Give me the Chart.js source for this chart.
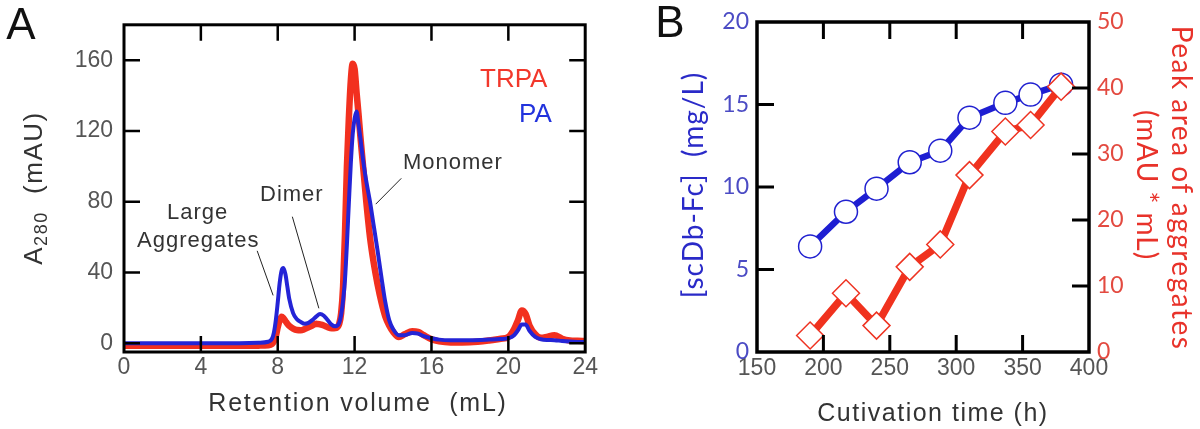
<!DOCTYPE html>
<html>
<head>
<meta charset="utf-8">
<script src="https://cdn.jsdelivr.net/npm/chart.js@4.4.1/dist/chart.umd.min.js"></script>
<style>
  html, body { margin:0; padding:0; background:#fff; }
  #wrap { position:relative; width:1200px; height:429px; overflow:hidden; font-family:"Liberation Sans", Arial, sans-serif; color:#333; }
  canvas { position:absolute; top:0; }
  #chartA { left:0; }
  #chartB { left:600px; }
  .txt { position:absolute; white-space:nowrap; line-height:1; }
  .c { transform:translate(-50%,-50%); }
  .l { transform:translate(0,-50%); }
  .rl { transform:translate(-50%,-50%) rotate(-90deg); }
  .rr { transform:translate(-50%,-50%) rotate(90deg); }
  .ann { font-size:22px; letter-spacing:1px; color:#333; }
  .lato { font-family:Lato, "Liberation Sans", sans-serif; }
</style>
</head>
<body>
<div id="wrap">
  <canvas id="chartA" width="600" height="429"></canvas>
  <canvas id="chartB" width="600" height="429"></canvas>

  <!-- panel A texts -->
  <div class="txt c" style="left:21px;top:24px;font-size:44px;color:#111">A</div>
  <div class="txt l" style="left:480px;top:78px;font-size:26px;color:#f2372b">TRPA</div>
  <div class="txt l" style="left:519px;top:113px;font-size:26px;color:#2233dd">PA</div>
  <div class="txt l ann" style="left:403px;top:162px">Monomer</div>
  <div class="txt l ann" style="left:260px;top:194px">Dimer</div>
  <div class="txt l ann" style="left:167px;top:212px">Large</div>
  <div class="txt l ann" style="left:137px;top:240px">Aggregates</div>
  <div class="txt c" style="left:358px;top:402px;font-size:25px;letter-spacing:1.8px">Retention volume&nbsp; (mL)</div>
  <div class="txt rl" style="left:35px;top:188px;font-size:26px;letter-spacing:1.5px">A<sub style="font-size:18px;vertical-align:-5px">280</sub>&nbsp; (mAU)</div>

  <!-- panel B texts -->
  <div class="txt c" style="left:670px;top:22px;font-size:44px;color:#111">B</div>
  <div class="txt c" style="left:933px;top:412px;font-size:25px;letter-spacing:1.5px">Cutivation time (h)</div>
  <div class="txt rl lato" style="left:692px;top:185px;font-size:28px;letter-spacing:1px;color:#2a2ac8">[scDb-Fc]&nbsp; (mg/L)</div>
  <div class="txt rr lato" style="left:1183px;top:188px;font-size:28px;letter-spacing:1.5px;color:#e8322a">Peak area of aggregates</div>
  <div class="txt rr lato" style="left:1148px;top:185px;font-size:28px;letter-spacing:1px;color:#e8322a">(mAU * mL)</div>
</div>

<script>
// ---- panel A : SEC chromatogram ----
var volA = [0, 2, 4, 6, 7, 7.5, 7.7, 7.8, 7.9, 8.0, 8.1, 8.2, 8.3, 8.4, 8.5, 8.6, 8.8, 9.0, 9.2, 9.4, 9.6, 9.8, 10.0, 10.2, 10.4, 10.6, 10.8, 11.0, 11.2,
  11.3, 11.4, 11.5, 11.6, 11.7, 11.8, 11.9, 12.0, 12.1, 12.2, 12.3, 12.4, 12.5, 12.6, 12.8, 13.0, 13.2, 13.4, 13.6, 13.8, 14.0,
  14.3, 14.6, 15.0, 15.3, 15.6, 16.0, 16.4, 17.0, 18.0, 19.0, 19.6, 20.0, 20.3, 20.5, 20.7, 20.9, 21.1, 21.4, 21.7, 22.0, 22.4, 22.8, 23.2, 23.6, 24.0];
var paA = [0, 0, 0, 0, 0.2, 0.8, 2.5, 6, 13, 23, 34, 41, 42.5, 39, 32, 25, 17, 13.5, 12, 11, 11.5, 13, 15, 16.5, 15.5, 13, 10.5, 9.5, 11.5,
  16, 24, 36, 56, 79, 101, 118, 127, 131, 124, 116, 107, 99, 92, 80, 66, 52, 37, 23, 13, 8,
  4.5, 4.5, 5.8, 5.4, 4, 2.8, 2, 1.7, 1.7, 2, 2.3, 2.8, 4.5, 7.3, 10.5, 10.5, 7, 3.5, 2.2, 1.8, 1.7, 1.2, 0.9, 0.7, 0.6];
var trpaA = [-1.5, -1.5, -1.5, -1.5, -1.4, -1.2, -0.5, 1, 4, 9, 13, 15, 14, 12.5, 11, 9.8, 8.2, 7.4, 7.3, 8, 9, 10, 11, 10.6, 10, 9, 8.4, 8.5, 11,
  17, 32, 62, 100, 127, 148, 158, 155, 142, 130, 117, 105, 93, 81, 60, 45, 33, 23, 15, 10, 6.5,
  3.5, 5, 6.7, 6.4, 4.5, 2.2, 1, 0.4, 0.5, 1.5, 2.5, 3.5, 8, 13, 18.5, 16.5, 10, 5, 3, 3.5, 4.5, 2.5, 1.5, 1.3, 1.2];
var xTicksA = [0, 4, 8, 12, 16, 20, 24];
var yTicksA = [0, 40, 80, 120, 160];

// leader lines for the peak labels, in mL / mAU
var leadersA = [[14.43, 93.2, 13.1, 78.6], [8.76, 71.5, 10.14, 19.7], [6.93, 52.2, 7.76, 27]];

// ---- panel B : cultivation ----
var cultTime = [190, 217, 240, 265, 288, 310, 337, 356, 379];
var scdbConc = [6.4, 8.5, 9.9, 11.5, 12.2, 14.2, 15.1, 15.6, 16.2];
var aggArea = [2.5, 8.9, 4.0, 12.9, 16.3, 26.8, 33.4, 34.4, 40.2];
var xTicksB = [150, 200, 250, 300, 350, 400];
var yTicksB = [0, 5, 10, 15, 20];
var y2TicksB = [0, 10, 20, 30, 40, 50];

function setTicks(list) {
    return function (s) { s.ticks = list.map(function (v) { return {value: v}; }); };
}
function pts(xs, ys) {
    return xs.map(function (v, i) { return {x: v, y: ys[i]}; });
}

// box round the plot with inward tick marks on every side
var framePlugin = {
    id: 'frame',
    afterDraw: function (chart, args, opts) {
        var ctx = chart.ctx, a = chart.chartArea;
        ctx.save();
        ctx.strokeStyle = '#000';
        ctx.lineWidth = opts.tickWidth;
        ctx.beginPath();
        opts.marks.forEach(function (m) {
            var s = chart.scales[m.axis];
            m.values.forEach(function (v) {
                var p = s.getPixelForValue(v);
                m.sides.forEach(function (side) {
                    if (side === 'bottom') { ctx.moveTo(p, a.bottom); ctx.lineTo(p, a.bottom - opts.len); }
                    if (side === 'top') { ctx.moveTo(p, a.top); ctx.lineTo(p, a.top + opts.len); }
                    if (side === 'left') { ctx.moveTo(a.left, p); ctx.lineTo(a.left + opts.len, p); }
                    if (side === 'right') { ctx.moveTo(a.right, p); ctx.lineTo(a.right - opts.len, p); }
                });
            });
        });
        ctx.stroke();
        ctx.lineWidth = opts.width;
        ctx.strokeRect(a.left, a.top, a.right - a.left, a.bottom - a.top);
        ctx.restore();
    }
};

var leaderPlugin = {
    id: 'leaders',
    afterDatasetsDraw: function (chart) {
        var ctx = chart.ctx, x = chart.scales.x, y = chart.scales.y;
        ctx.save();
        ctx.strokeStyle = '#222';
        ctx.lineWidth = 1;
        leadersA.forEach(function (l) {
            ctx.beginPath();
            ctx.moveTo(x.getPixelForValue(l[0]), y.getPixelForValue(l[1]));
            ctx.lineTo(x.getPixelForValue(l[2]), y.getPixelForValue(l[3]));
            ctx.stroke();
        });
        ctx.restore();
    }
};

var noGrid = {display: false, drawTicks: false};

new Chart(document.getElementById('chartA'), {
    type: 'line',
    data: {
        datasets: [{
            label: 'PA',
            data: pts(volA, paA),
            borderColor: '#2424d6',
            borderWidth: 4,
            pointRadius: 0,
            cubicInterpolationMode: 'monotone',
            order: 0
        }, {
            label: 'TRPA',
            data: pts(volA, trpaA),
            borderColor: '#f2301f',
            borderWidth: 6.5,
            pointRadius: 0,
            cubicInterpolationMode: 'monotone',
            order: 1
        }]
    },
    options: {
        responsive: false,
        animation: false,
        layout: {padding: {left: 0, right: 12, top: 23, bottom: 0}, autoPadding: false},
        plugins: {
            legend: {display: false},
            tooltip: {enabled: false},
            frame: {width: 3, tickWidth: 2.5, len: 16, marks: [
                {axis: 'x', values: [4, 8, 12, 16, 20], sides: ['bottom', 'top']},
                {axis: 'y', values: yTicksA, sides: ['left', 'right']}
            ]}
        },
        scales: {
            x: {
                type: 'linear', min: 0, max: 24,
                afterFit: function (s) { s.height = 77; },
                afterBuildTicks: setTicks(xTicksA),
                grid: noGrid, border: {display: false},
                ticks: {font: {family: 'Liberation Sans', size: 23}, color: '#555', padding: 2, maxRotation: 0, autoSkip: false}
            },
            y: {
                type: 'linear', min: -5, max: 180,
                afterFit: function (s) { s.width = 124; },
                afterBuildTicks: setTicks(yTicksA),
                grid: noGrid, border: {display: false},
                ticks: {font: {family: 'Liberation Sans', size: 23}, color: '#555', padding: 11}
            }
        }
    },
    plugins: [framePlugin, leaderPlugin]
});

new Chart(document.getElementById('chartB'), {
    type: 'line',
    data: {
        datasets: [{
            label: 'Peak area of aggregates',
            data: pts(cultTime, aggArea),
            yAxisID: 'y2',
            borderColor: '#f0321e',
            borderWidth: 7.5,
            pointStyle: 'rectRot',
            pointRadius: 13.5,
            pointBorderWidth: 1.5,
            pointBorderColor: '#ee3322',
            pointBackgroundColor: '#fff',
            order: 0,
            clip: false
        }, {
            label: '[scDb-Fc]',
            data: pts(cultTime, scdbConc),
            yAxisID: 'y',
            borderColor: '#1e1ed2',
            borderWidth: 6.5,
            pointStyle: 'circle',
            pointRadius: 11.5,
            pointBorderWidth: 1.5,
            pointBorderColor: '#2020d0',
            pointBackgroundColor: '#fff',
            order: 1,
            clip: false
        }]
    },
    options: {
        responsive: false,
        animation: false,
        layout: {padding: {left: 0, right: 0, top: 22, bottom: 0}, autoPadding: false},
        plugins: {
            legend: {display: false},
            tooltip: {enabled: false},
            frame: {width: 3.5, tickWidth: 3, len: 17, marks: [
                {axis: 'x', values: [200, 250, 300, 350], sides: ['bottom', 'top']},
                {axis: 'y', values: [5, 10, 15], sides: ['left']},
                {axis: 'y2', values: [10, 20, 30, 40], sides: ['right']}
            ]}
        },
        scales: {
            x: {
                type: 'linear', min: 150, max: 400,
                afterFit: function (s) { s.height = 77; },
                afterBuildTicks: setTicks(xTicksB),
                grid: noGrid, border: {display: false},
                ticks: {font: {family: 'Liberation Sans', size: 23}, color: '#555', padding: 3, maxRotation: 0, autoSkip: false}
            },
            y: {
                type: 'linear', position: 'left', min: 0, max: 20,
                afterFit: function (s) { s.width = 157; },
                afterBuildTicks: setTicks(yTicksB),
                grid: noGrid, border: {display: false},
                ticks: {font: {family: 'Lato', size: 23}, color: '#4b4bc4', padding: 8}
            },
            y2: {
                type: 'linear', position: 'right', min: 0, max: 50,
                afterFit: function (s) { s.width = 111; },
                afterBuildTicks: setTicks(y2TicksB),
                grid: noGrid, border: {display: false},
                ticks: {font: {family: 'Lato', size: 23}, color: '#e34a40', padding: 8}
            }
        }
    },
    plugins: [framePlugin]
});
</script>
</body>
</html>
